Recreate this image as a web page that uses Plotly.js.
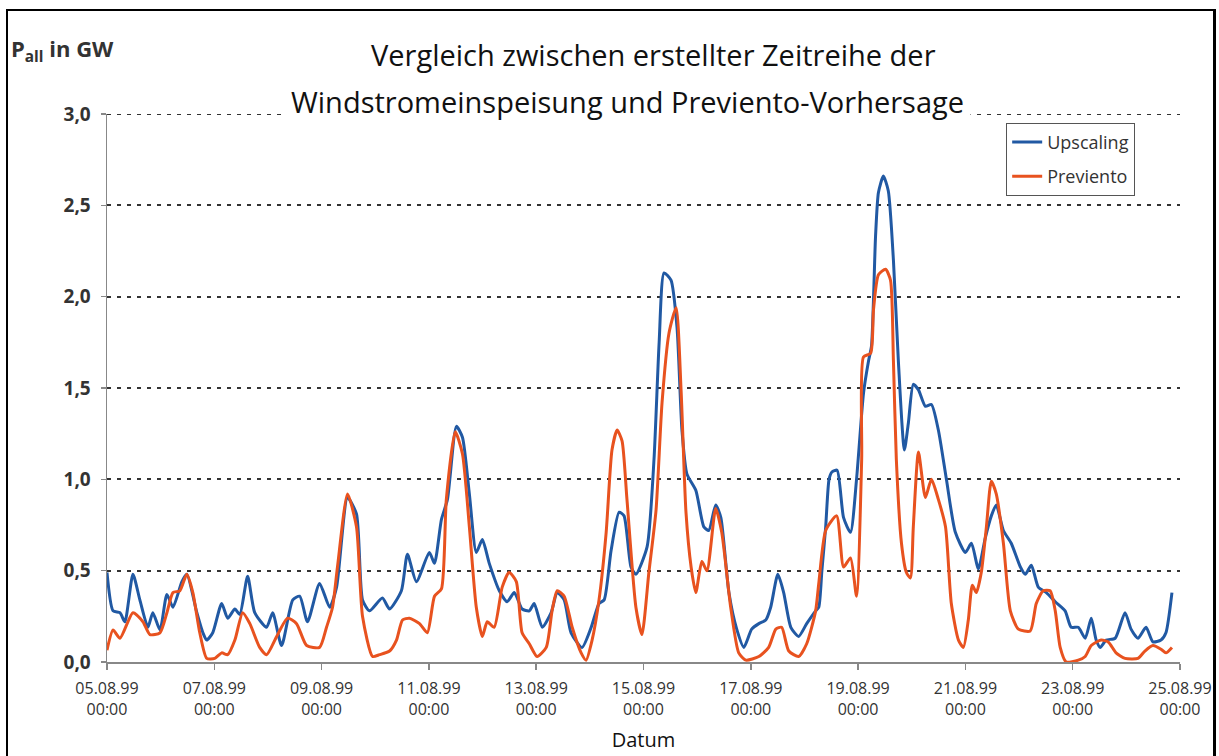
<!DOCTYPE html>
<html>
<head>
<meta charset="utf-8">
<script src="https://cdn.plot.ly/plotly-3.0.1.min.js"></script>
<style>
html,body{margin:0;padding:0;background:#fff;}
#frame{position:absolute;left:6px;top:9px;width:1210px;height:760px;border-left:2px solid #000;border-top:2px solid #000;border-right:3px solid #000;box-sizing:border-box;pointer-events:none;z-index:5;}
#chart{position:absolute;left:0;top:0;width:1219px;height:756px;}
</style>
</head>
<body>
<div id="chart"></div>
<div id="frame"></div>
<script>
// Hours after 05.08.99 00:00 and power in GW
const upscalingHours = [0,2.7,5.8,8.0,11.6,14.7,18.3,20.5,23.7,26.8,29.5,33.5,35.7,40.2,42.9,44.6,47.3,51.3,54.0,57.2,59.4,62.9,66.1,71.4,74.1,78.1,83.1,86.2,89.7,95.1,99.6,102.7,107.6,111.6,114.3,117.4,123.2,126.4,131.7,134.4,138.4,144.2,146.5,149.6,152.3,156.3,159.0,162.1,165.2,167.9,171.0,175.5,179.0,182.2,185.7,188.9,191.1,194.7,198.7,201.4,204.5,207.6,212.5,216.6,220.1,222.4,225.5,229.1,231.3,234.4,236.6,241.6,244.7,247.0,249.2,252.3,255.0,257.2,259.4,263.4,267.0,269.2,272.3,274.6,278.2,281.7,284.9,288.4,291.6,294.7,296.9,300.1,302.7,305.9,309.4,313.0,317.0,318.4,319.8,321.5,323.0,324.3,326.6,329.5,332.6,335.3,338.4,340.7,342.0,343.8,345.1,347.3,349.5,351.8,354.0,356.7,358.5,360.7,363.0,366.1,368.8,371.9,375.5,379.5,384.0,386.7,389.8,392.9,395.6,397.8,401.0,404.5,408.6,410.8,413.5,416.6,420.2,424.2,428.6,431.3,434.5,437.6,440.3,442.5,444.3,447.0,451.0,455.4,458.1,461.2,464.8,467.9,471.5,473.7,476.4];
const upscalingGW = [0.49,0.28,0.27,0.22,0.48,0.34,0.19,0.27,0.175,0.37,0.30,0.44,0.48,0.27,0.16,0.12,0.16,0.32,0.24,0.29,0.26,0.47,0.27,0.19,0.27,0.09,0.34,0.36,0.22,0.43,0.30,0.41,0.90,0.81,0.34,0.28,0.35,0.29,0.39,0.59,0.44,0.60,0.54,0.78,0.89,1.29,1.23,0.92,0.60,0.67,0.54,0.39,0.33,0.38,0.29,0.28,0.32,0.19,0.27,0.38,0.34,0.16,0.08,0.19,0.32,0.34,0.61,0.82,0.80,0.52,0.48,0.63,1.11,1.75,2.13,2.09,1.83,1.27,1.03,0.94,0.74,0.72,0.86,0.79,0.38,0.18,0.08,0.18,0.21,0.23,0.30,0.48,0.38,0.19,0.14,0.21,0.28,0.30,0.50,0.74,1.00,1.04,1.05,0.79,0.71,1.00,1.47,1.65,1.73,2.33,2.57,2.66,2.58,2.20,1.65,1.16,1.31,1.52,1.49,1.40,1.41,1.27,1.00,0.71,0.60,0.65,0.51,0.68,0.80,0.86,0.72,0.65,0.52,0.48,0.53,0.41,0.38,0.33,0.28,0.19,0.19,0.13,0.24,0.12,0.08,0.12,0.13,0.27,0.18,0.13,0.19,0.11,0.12,0.16,0.38];

const previentoHours = [0,2.7,5.8,11.6,16.1,19.2,23.7,26.8,29.5,32.6,35.7,38.4,41.5,44.6,48.2,51.3,54.0,57.2,60.7,63.9,68.3,71.4,75.9,80.8,84.8,89.3,95.1,98.2,100.9,103.1,107.6,111.6,114.3,118.8,121.9,126.4,129.5,132.2,135.3,139.8,143.3,146.5,149.6,151.8,155.8,159.0,162.1,165.2,167.9,170.1,173.2,176.8,179.9,183.1,185.7,188.9,192.4,196.5,199.1,201.4,204.5,208.1,212.1,214.3,217.0,220.1,223.3,225.9,228.2,230.4,232.6,236.6,239.3,242.4,245.6,248.3,251.4,254.6,256.8,259.0,261.3,263.4,266.1,268.4,272.3,275.0,279.0,282.6,285.8,291.6,296.0,299.2,301.8,305.0,309.4,313.0,317.0,318.4,321.5,326.4,329.5,332.6,335.3,337.6,338.4,341.6,342.9,345.1,348.3,350.5,351.8,353.1,355.4,357.6,359.4,360.7,363.0,366.1,368.8,371.9,375.1,377.7,380.9,383.1,385.3,387.1,388.9,391.1,393.4,395.6,397.8,401.0,404.1,407.7,413.0,415.7,418.8,421.9,424.2,426.4,429.1,434.5,437.6,440.3,444.7,447.9,451.4,455.4,461.2,464.3,467.9,471.5,473.7,476.4];
const previentoGW = [0.065,0.175,0.13,0.27,0.22,0.15,0.16,0.27,0.38,0.39,0.48,0.38,0.16,0.02,0.02,0.05,0.04,0.12,0.27,0.21,0.08,0.04,0.14,0.24,0.21,0.09,0.08,0.19,0.30,0.52,0.92,0.74,0.25,0.03,0.04,0.06,0.12,0.23,0.24,0.21,0.16,0.36,0.40,0.89,1.26,1.14,0.74,0.30,0.14,0.22,0.19,0.41,0.49,0.44,0.16,0.10,0.03,0.08,0.28,0.39,0.36,0.19,0.05,0.01,0.12,0.34,0.71,1.16,1.27,1.21,0.89,0.30,0.15,0.49,0.83,1.42,1.80,1.94,1.49,0.82,0.52,0.38,0.55,0.50,0.84,0.71,0.30,0.05,0.01,0.03,0.08,0.18,0.19,0.06,0.03,0.10,0.28,0.43,0.72,0.80,0.52,0.57,0.36,1.11,1.67,1.69,1.93,2.12,2.15,2.09,1.65,1.11,0.65,0.49,0.46,0.74,1.15,0.90,1.00,0.89,0.74,0.32,0.12,0.08,0.23,0.42,0.38,0.49,0.74,0.99,0.92,0.65,0.28,0.18,0.17,0.32,0.39,0.39,0.28,0.08,0.00,0.01,0.03,0.09,0.12,0.11,0.05,0.02,0.02,0.06,0.09,0.07,0.05,0.08];

const tickDates = ['1999-08-05','1999-08-07','1999-08-09','1999-08-11','1999-08-13','1999-08-15','1999-08-17','1999-08-19','1999-08-21','1999-08-23','1999-08-25'];
const tickLabels = ['05.08.99<br>00:00','07.08.99<br>00:00','09.08.99<br>00:00','11.08.99<br>00:00','13.08.99<br>00:00','15.08.99<br>00:00','17.08.99<br>00:00','19.08.99<br>00:00','21.08.99<br>00:00','23.08.99<br>00:00','25.08.99<br>00:00'];
const yTicks = [0,0.5,1.0,1.5,2.0,2.5,3.0];

const startMs = Date.UTC(1999,7,5,0,0,0);
function toDate(h){
  const d = new Date(startMs + h*3600000);
  const p = n => String(n).padStart(2,'0');
  return d.getUTCFullYear()+'-'+p(d.getUTCMonth()+1)+'-'+p(d.getUTCDate())+' '+p(d.getUTCHours())+':'+p(d.getUTCMinutes())+':'+p(d.getUTCSeconds());
}

const FONT = 'Open Sans, DejaVu Sans, sans-serif';
const GRID_DASH = '4px,6px';

const traces = [
  {x: upscalingHours.map(toDate), y: upscalingGW, name: 'Upscaling', type: 'scatter', mode: 'lines',
   legendgroup: 'a', line: {color: '#2159a3', width: 3, shape: 'spline', smoothing: 0.6}},
  {x: previentoHours.map(toDate), y: previentoGW, name: 'Previento', type: 'scatter', mode: 'lines',
   legendgroup: 'b', line: {color: '#e8521f', width: 3, shape: 'spline', smoothing: 0.6}}
];

const layout = {
  width: 1219, height: 756,
  margin: {l: 107, r: 39, t: 114, b: 94},
  paper_bgcolor: '#fff', plot_bgcolor: '#fff',
  separators: ',.',
  font: {family: FONT, color: '#333'},
  showlegend: true,
  legend: {x: 0.838, y: 0.984, xanchor: 'left', yanchor: 'top', bgcolor: '#fff',
           bordercolor: '#555', borderwidth: 1, font: {size: 18, color: '#333', family: FONT},
           traceorder: 'grouped', tracegroupgap: 8, itemwidth: 30},
  xaxis: {
    type: 'date', range: ['1999-08-05', '1999-08-25'],
    tickvals: tickDates, ticktext: tickLabels,
    tickfont: {size: 16, color: '#333', family: FONT},
    ticklabelstandoff: 5,
    showgrid: false, zeroline: false,
    showline: true, linecolor: '#888', linewidth: 1.5,
    ticks: 'outside', ticklen: 6, tickcolor: '#888', tickwidth: 1.5,
    title: {text: 'Datum', font: {size: 20, color: '#111', family: FONT}, standoff: 14}
  },
  yaxis: {
    range: [0, 3], tickvals: yTicks, tickformat: '.1f',
    tickfont: {size: 19, color: '#333', family: FONT, weight: 'bold'},
    ticklabelstandoff: 6,
    showgrid: true, gridcolor: '#333', gridwidth: 2, griddash: GRID_DASH,
    zeroline: false, showline: true, linecolor: '#888', linewidth: 1.5,
    ticks: 'outside', ticklen: 5, tickcolor: '#888', tickwidth: 1.5
  },
  shapes: [
    {type: 'line', xref: 'paper', yref: 'y', x0: 0, x1: 1, y0: 3, y1: 3, layer: 'below',
     line: {color: '#333', width: 2, dash: GRID_DASH}}
  ],
  annotations: [
    {text: 'Vergleich zwischen erstellter Zeitreihe der', xref: 'paper', yref: 'paper',
     x: 0.509, y: 1.1077, xanchor: 'center', yanchor: 'middle', showarrow: false,
     font: {size: 29, color: '#111', family: FONT}},
    {text: 'Windstromeinspeisung und Previento-Vorhersage', xref: 'paper', yref: 'paper',
     x: 0.4847, y: 1.0237, xanchor: 'center', yanchor: 'middle', showarrow: false,
     bgcolor: '#fff', borderpad: 6,
     font: {size: 29, color: '#111', family: FONT}},
    {text: '<b>P<sub>all</sub> in GW</b>', xref: 'paper', yref: 'paper',
     x: -0.091, y: 1.117, xanchor: 'left', yanchor: 'middle', showarrow: false,
     font: {size: 22, color: '#333', family: FONT}}
  ]
};

Plotly.newPlot('chart', traces, layout, {displayModeBar: false, staticPlot: true});
</script>
</body>
</html>
